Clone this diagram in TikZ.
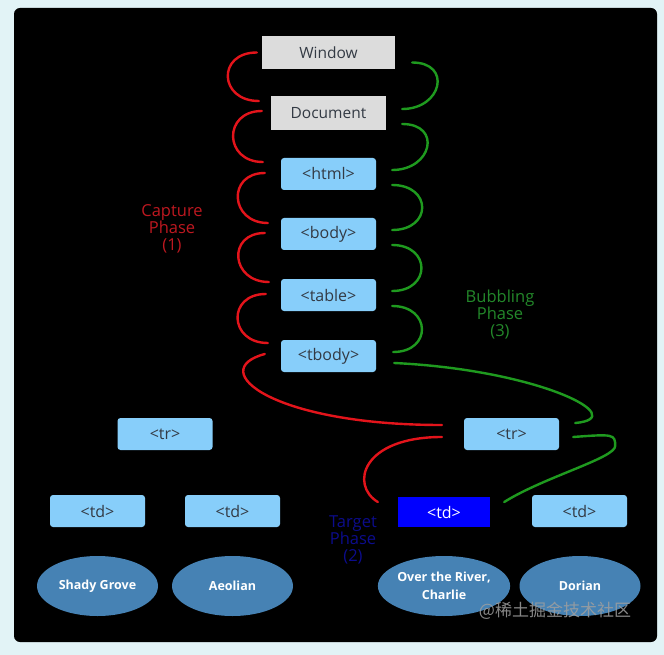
\documentclass[tikz,border=0pt]{standalone}
\usepackage{fontspec}
\setmainfont{Open Sans}
\newfontfamily\evcjk{Noto Sans CJK SC}
\usetikzlibrary{positioning,shapes.geometric,calc}
\definecolor{evfundo}{HTML}{E2F3F6}
\definecolor{evcinza}{HTML}{DCDCDC}
\definecolor{evtexto}{HTML}{333A44}
\definecolor{evazulclaro}{HTML}{87CEFA}
\definecolor{evazulaco}{HTML}{4682B4}
\definecolor{evazulforte}{HTML}{0000FF}
\definecolor{evmarinho}{HTML}{0C0C8C}
\definecolor{evvermelho}{HTML}{E3141B}
\definecolor{evvermelhoescuro}{HTML}{BE1820}
\definecolor{evverde}{HTML}{1F9A1F}
\definecolor{evverdeescuro}{HTML}{23882A}
\tikzset{
  evjanela/.style={fill=evcinza, text=evtexto, font=\fontsize{15.5}{17}\selectfont, inner sep=0pt},
  evbloco/.style={fill=evazulclaro, rounded corners=3pt, text=evtexto, font=\fontsize{16}{17}\selectfont,
                  minimum width=95pt, minimum height=32pt, inner sep=0pt},
  evalvo/.style={fill=evazulforte, text=white, font=\fontsize{16}{17}\selectfont,
                  minimum width=92pt, minimum height=30pt, inner sep=0pt},
  evfolha/.style={ellipse, fill=evazulaco, text=white, font=\fontsize{12.5}{18}\selectfont\bfseries,
                  minimum width=121pt, minimum height=60pt, inner sep=0pt, align=center},
  evcaptura/.style={draw=evvermelho, line width=2.4pt, line cap=round},
  evbolha/.style={draw=evverde, line width=2.4pt, line cap=round},
  evrotulo/.style={font=\fontsize{16.5}{17}\selectfont, align=center},
}
\begin{document}
\begin{tikzpicture}[x=1pt, y=-1pt]
        \useasboundingbox (0,0) rectangle (664,655);
        % fundo
        \fill[evfundo] (0,0) rectangle (664,655);
        \fill[black, rounded corners=6pt] (14,8) rectangle (657,642);
        % janela e documento
        \node[evjanela, minimum width=133pt, minimum height=33pt] (win) at (328.5,52.5) {Window};
        \node[evjanela, minimum width=115pt, minimum height=34pt] (doc) at (328.5,113) {Document};
        % caminho ate a tabela
        \node[evbloco] (html) at (328.5,174) {<html>};
        \node[evbloco] (body) at (328.5,234) {<body>};
        \node[evbloco] (table) at (328.5,295) {<table>};
        \node[evbloco] (tbody) at (328.5,356) {<tbody>};
        % linhas
        \node[evbloco] (trA) at (165,434) {<tr>};
        \node[evbloco] (trB) at (511.5,434) {<tr>};
        % celulas
        \node[evbloco] (tdA) at (97.5,511) {<td>};
        \node[evbloco] (tdB) at (232.5,511) {<td>};
        \node[evalvo] (tdT) at (444,512) {<td>};
        \node[evbloco] (tdD) at (579.5,511) {<td>};
        % textos das celulas
        \node[evfolha] (shady) at (97.5,586) {Shady Grove};
        \node[evfolha] (aeolian) at (232.5,586) {Aeolian};
        \node[evfolha] (river) at (444,586) {Over the River,\\Charlie};
        \node[evfolha] (dorian) at (580,586) {Dorian};
        % fases
        \node[evrotulo, text=evvermelhoescuro] (capt) at (172,229) {Capture\\Phase\\(1)};
        \node[evrotulo, text=evverdeescuro] (bolha) at (500,315) {Bubbling\\Phase\\(3)};
        \node[evrotulo, text=evmarinho] (alvo) at (353,540) {Target\\Phase\\(2)};
        % captura
        \draw[evcaptura] ($(win.west)+(-5,0)$) .. controls +(-40,0) and +(-40,0) .. ($(doc.west)+(-12,-12)$);
        \draw[evcaptura] ($(doc.west)+(-9,-2)$) .. controls +(-39,0) and +(-39,0) .. ($(html.west)+(-18,-12)$);
        \draw[evcaptura] ($(html.west)+(-16,-1)$) .. controls +(-38,0) and +(-38,0) .. ($(body.west)+(-13,-11)$);
        \draw[evcaptura] ($(body.west)+(-16,-1)$) .. controls +(-38,0) and +(-38,0) .. ($(table.west)+(-12,-13)$);
        \draw[evcaptura] ($(table.west)+(-15,-1)$) .. controls +(-39,0) and +(-39,0) .. ($(tbody.west)+(-13,-13)$);
        \draw[evcaptura] ($(tbody.west)+(-16,-2)$) .. controls +(-60,16) and +(-170,0) .. ($(trB.west)+(-22,-9)$);
        \draw[evcaptura] ($(trB.west)+(-22,3)$) .. controls +(-80,0) and +(-28,-17) .. ($(tdT.west)+(-20,-10)$);
        % propagacao
        \draw[evbolha] ($(win.east)+(17,10)$) .. controls +(40,0) and +(40,0) .. ($(doc.east)+(16,-4)$);
        \draw[evbolha] ($(doc.east)+(16,11)$) .. controls +(40,0) and +(40,0) .. ($(html.east)+(16,-4)$);
        \draw[evbolha] ($(html.east)+(16,11)$) .. controls +(40,0) and +(40,0) .. ($(body.east)+(16,-4)$);
        \draw[evbolha] ($(body.east)+(16,11)$) .. controls +(39,0) and +(39,0) .. ($(table.east)+(16,-4)$);
        \draw[evbolha] ($(table.east)+(16,11)$) .. controls +(39,0) and +(39,0) .. ($(tbody.east)+(17,-4)$);
        \draw[evbolha] ($(tbody.east)+(18,7)$) .. controls +(146,7) and +(57,-5) .. ($(trB.east)+(16,-11)$);
        \draw[evbolha] ($(trB.east)+(14,3)$) .. controls +(40,-3) and +(0,-12) .. ($(trB.east)+(56,12)$)
                       .. controls +(0,12) and +(40,-25) .. ($(tdT.east)+(14,-10)$);
        % marca
        \node[font=\evcjk\fontsize{17}{17}\selectfont, text=gray!75, opacity=.85] (marca) at (555,611) {@稀土掘金技术社区};
    \end{tikzpicture}
\end{document}
